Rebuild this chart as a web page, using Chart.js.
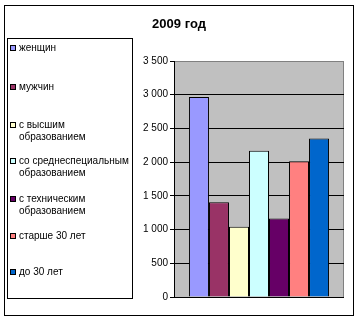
<!DOCTYPE html>
<html>
<head>
<meta charset="utf-8">
<script src="https://cdn.jsdelivr.net/npm/chart.js@4"></script>
<style>
  body { margin: 0; background: #fff; }
  canvas { display: block; }
</style>
</head>
<body>
<canvas id="chart" width="359" height="322"></canvas>
<script>
const title = '2009 год'
const seriesNames = [
  'женщин',
  'мужчин',
  'с высшим\nобразованием',
  'со среднеспециальным\nобразованием',
  'с техническим\nобразованием',
  'старше 30 лет',
  'до 30 лет'
]
const seriesValues = [2965, 1405, 1040, 2170, 1165, 2015, 2350]
const seriesColors = ['#9999FF', '#993366', '#FFFFCC', '#CCFFFF', '#660066', '#FF8080', '#0066CC']
const yTicks = [0, 500, 1000, 1500, 2000, 2500, 3000, 3500]

const font = '"Liberation Sans", Arial, sans-serif'

// frame, grey plot area, title and the boxed legend on the left
const decor = {
  id: 'decor',
  beforeDraw (chart) {
    const { ctx, chartArea: a } = chart
    ctx.save()
    ctx.fillStyle = '#fff'
    ctx.fillRect(0, 0, chart.width, chart.height)
    ctx.fillStyle = '#C0C0C0'
    ctx.fillRect(a.left, a.top, a.right - a.left, a.bottom - a.top)
    ctx.strokeStyle = '#808080'
    ctx.lineWidth = 1
    ctx.strokeRect(a.left + 0.5, a.top + 0.5, a.right - a.left - 1, a.bottom - a.top)
    ctx.restore()
  },
  afterDraw (chart) {
    const ctx = chart.ctx
    ctx.save()
    ctx.strokeStyle = '#000'
    ctx.lineWidth = 1
    ctx.strokeRect(4.5, 5.5, 349, 310)

    ctx.fillStyle = '#000'
    ctx.font = 'bold 13px ' + font
    ctx.textAlign = 'center'
    ctx.textBaseline = 'middle'
    ctx.fillText(title, 179, 24)

    ctx.strokeRect(7.5, 38.5, 125, 260)
    const rows = [48, 87, 125, 161, 199, 236, 272]
    ctx.font = '10px ' + font
    ctx.textAlign = 'left'
    seriesNames.forEach((name, i) => {
      const y = rows[i]
      ctx.fillStyle = seriesColors[i]
      ctx.fillRect(10, y - 3, 6, 6)
      ctx.strokeStyle = '#000'
      ctx.strokeRect(10.5, y - 2.5, 5, 5)
      ctx.fillStyle = '#000'
      name.split('\n').forEach((line, k) => {
        ctx.fillText(line, 19, y + k * 12)
      })
    })
    ctx.restore()
  }
}

new Chart(document.getElementById('chart'), {
  type: 'bar',
  data: {
    labels: [''],
    datasets: seriesNames.map((name, i) => ({
      label: name,
      data: [seriesValues[i]],
      backgroundColor: seriesColors[i],
      borderColor: '#000',
      borderWidth: 1
    }))
  },
  options: {
    responsive: false,
    animation: false,
    layout: {
      padding: { left: 140, top: 61, right: 15, bottom: 25 }
    },
    datasets: {
      bar: { categoryPercentage: 0.824, barPercentage: 1 }
    },
    scales: {
      x: { display: false },
      y: {
        min: 0,
        max: 3500,
        afterFit (scale) { scale.width = 34 },
        afterBuildTicks (scale) { scale.ticks = yTicks.map((v) => ({ value: v })) },
        border: { color: '#000', width: 1 },
        grid: {
          color: (c) => (c.tick && c.tick.value === 3500 ? '#808080' : '#000'),
          tickColor: '#000',
          tickLength: 4
        },
        ticks: {
          padding: 2,
          color: '#000',
          font: { family: font, size: 10 },
          callback: (v) => String(v).replace(/\B(?=(\d{3})+(?!\d))/g, '\u00a0')
        }
      }
    },
    plugins: {
      legend: { display: false },
      title: { display: false },
      tooltip: { enabled: false }
    }
  },
  plugins: [decor]
})
</script>
</body>
</html>
